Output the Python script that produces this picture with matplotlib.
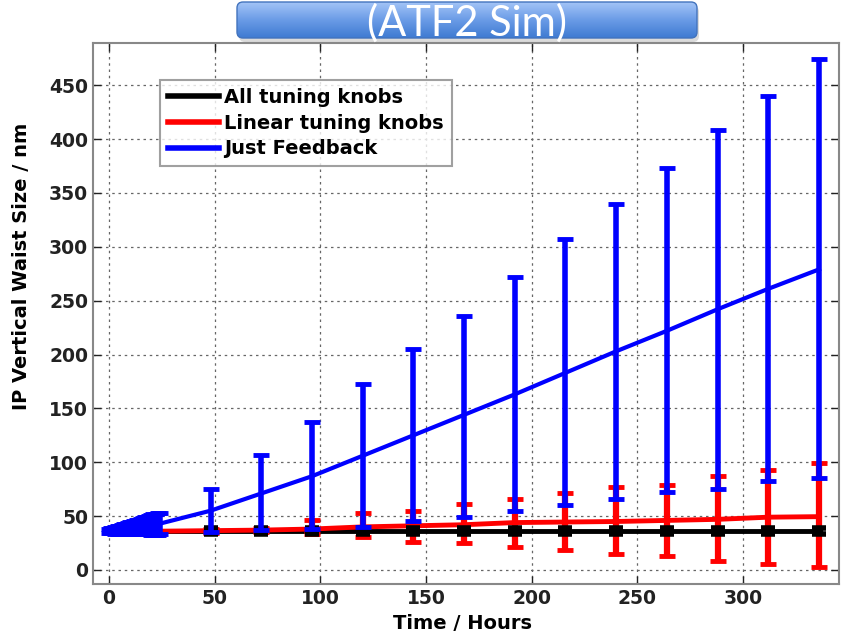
import numpy as np
import matplotlib.pyplot as plt
from matplotlib.patches import FancyBboxPatch
from matplotlib.colors import LinearSegmentedColormap

# time points (hours) of the daily error bars
hours = [48, 72, 96, 120, 144, 168, 192, 216, 240, 264, 288, 312, 336]

# first day, sampled every hour (feedback only)
hours_early = [0, 1, 2, 3, 4, 5, 6, 7, 8, 9, 10, 11, 12,
               13, 14, 15, 16, 17, 18, 19, 20, 21, 22, 23, 24]
fb_early_mean = [36.0, 36.2, 36.5, 36.8, 37.1, 37.4, 37.7, 38.0, 38.3,
                 38.6, 38.9, 39.2, 39.5, 39.8, 40.1, 40.4, 40.7, 41.0,
                 41.3, 41.6, 41.9, 42.2, 42.5, 42.8, 43.0]
fb_early_err = [2.0, 2.3, 2.6, 3.0, 3.3, 3.6, 4.0, 4.3, 4.6, 5.0, 5.3,
                5.6, 6.0, 6.3, 6.6, 7.0, 7.4, 7.8, 8.2, 8.6, 9.0, 9.3,
                9.6, 10.0, 10.0]

# Just Feedback
fb_mean = [55, 71, 87, 106, 125, 144, 163, 183, 203, 222, 242, 261, 279]
fb_lo = [35, 37, 38, 40, 45, 49, 55, 60, 66, 72, 75, 83, 85]
fb_hi = [75, 107, 137, 173, 205, 236, 272, 307, 340, 373, 408, 440, 474]

# Linear tuning knobs
lin_t = [0, 24, 48, 72, 96, 120, 144, 168, 192, 216, 240, 264, 288, 312, 336]
lin_mean = [36, 36, 36.5, 37, 38, 40, 41, 42, 44, 44.5, 45, 46, 47, 49, 49.5]
lin_lo = [34, 35, 33, 31, 26, 25, 21, 19, 15, 13, 8, 6, 3]
lin_hi = [38, 39, 46, 53, 55, 61, 66, 71, 77, 79, 87, 93, 99]

# All tuning knobs
all_t = [0, 24, 48, 72, 96, 120, 144, 168, 192, 216, 240, 264, 288, 312, 336]
all_mean = [36, 36, 36, 36, 36, 36, 36, 36, 36, 36, 36, 36, 36, 36, 36]
all_lo = [33, 33, 33, 33, 33, 33, 33, 33, 33, 33, 33, 33, 33]
all_hi = [39, 39, 39, 39, 39, 39, 39, 39, 39, 39, 39, 39, 39]

x_ticks = [0, 50, 100, 150, 200, 250, 300]
y_ticks = [0, 50, 100, 150, 200, 250, 300, 350, 400, 450]

plt.rcParams['font.family'] = 'DejaVu Sans'
plt.rcParams['font.weight'] = 'bold'

fig = plt.figure(figsize=(8.42, 6.34), dpi=100)
ax = fig.add_axes([0.1105, 0.0789, 0.886, 0.853])


def yerr(mean, lo, hi):
    m = np.array(mean, dtype=float)
    return [m - np.array(lo), np.array(hi) - m]


bar_kw = dict(fmt='none', capsize=6, capthick=3.5, elinewidth=4)

# black line sits under the red one
ax.plot(all_t, all_mean, color='black', lw=3.5, zorder=2)
ax.plot(lin_t, lin_mean, color='red', lw=3.5, zorder=3)
ax.errorbar(hours, lin_mean[2:], yerr=yerr(lin_mean[2:], lin_lo, lin_hi),
            ecolor='#ff0000', zorder=3, fmt='none', capsize=6, capthick=3.5,
            elinewidth=4.5)
ax.errorbar(hours, all_mean[2:], yerr=yerr(all_mean[2:], all_lo, all_hi),
            ecolor='black', zorder=4, fmt='none', capsize=5, capthick=4, elinewidth=6)

ax.plot(hours_early + hours, fb_early_mean + fb_mean, color='blue', lw=3, zorder=5)
ax.errorbar(hours_early, fb_early_mean, yerr=fb_early_err, ecolor='blue',
            zorder=5, **bar_kw)
ax.errorbar(hours, fb_mean, yerr=yerr(fb_mean, fb_lo, fb_hi), ecolor='blue',
            zorder=5, **bar_kw)

ax.plot([], [], color='black', lw=4, label='All tuning knobs')
ax.plot([], [], color='red', lw=4, label='Linear tuning knobs')
ax.plot([], [], color='blue', lw=4, label='Just Feedback')

ax.set_xlim(-7.6, 345.5)
ax.set_ylim(-13, 489)
ax.set_xticks(x_ticks)
ax.set_yticks(y_ticks)
ax.tick_params(direction='in', length=6, width=1, top=True, right=True,
               labelsize=13.5, colors='#222222')
for lab in ax.get_xticklabels() + ax.get_yticklabels():
    lab.set_fontweight('bold')
ax.grid(True, linestyle=(0, (2, 3)), color='#666666', lw=0.9)
for s in ax.spines.values():
    s.set_color('#888888')
    s.set_linewidth(1.5)

ax.set_xlabel('Time / Hours', fontsize=14, fontweight='bold')
ax.set_ylabel('IP Vertical Waist Size / nm', fontsize=14, fontweight='bold')
ax.xaxis.set_label_coords(0.495, -0.056)
ax.yaxis.set_label_coords(-0.083, 0.588)

leg = ax.legend(loc='upper left', bbox_to_anchor=(0.09, 0.932), borderaxespad=0,
                fancybox=False, fontsize=14, handlelength=2.6, labelspacing=0.35,
                borderpad=0.4, handletextpad=0.3)
leg.get_frame().set_edgecolor('#888888')
leg.get_frame().set_linewidth(1.5)
leg.set_zorder(10)

# title banner with a vertical gradient
bax = fig.add_axes([232 / 842, 1 - 46 / 634, 470 / 842, 46 / 634], zorder=20)
bax.set_xlim(0, 470)
bax.set_ylim(0, 46)
bax.axis('off')
shadow = FancyBboxPatch((7, 4), 460, 36, boxstyle='round,pad=0,rounding_size=6',
                        fc='#888888', ec='none', alpha=0.3, clip_on=False, zorder=0)
bax.add_patch(shadow)
cmap = LinearSegmentedColormap.from_list('banner', ['#a3c4f7', '#6a9be6', '#3f7bd2'])
grad = np.linspace(0, 1, 64).reshape(-1, 1)
img = bax.imshow(grad, cmap=cmap, aspect='auto', extent=[5, 465, 8, 44],
                 origin='upper', zorder=1)
box = FancyBboxPatch((5, 8), 460, 36, boxstyle='round,pad=0,rounding_size=6',
                     fc='none', ec='#4273bd', lw=1, zorder=2)
bax.add_patch(box)
img.set_clip_path(box)
bax.text(235, 23, '(ATF2 Sim)', color='white', fontsize=30, family='Lato',
         fontweight='normal', ha='center', va='center', zorder=3)

fig.savefig('out.png', dpi=100)
